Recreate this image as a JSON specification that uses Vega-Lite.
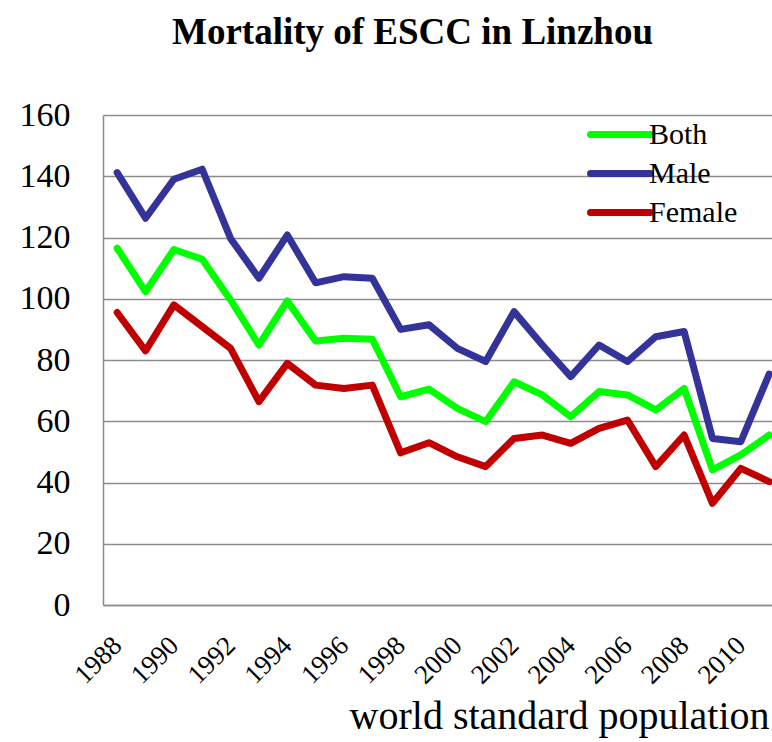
{
  "$schema": "https://vega.github.io/schema/vega-lite/v6.json",
  "autosize": "none",
  "padding": {"left": 103, "top": 115, "right": 0, "bottom": 137},
  "width": 669,
  "height": 490,
  "background": "white",
  "title": {"text": "Mortality of ESCC in Linzhou", "font": "Liberation Serif", "fontSize": 37, "fontWeight": "bold", "color": "black", "anchor": "middle", "dx": -25, "offset": 46},
  "data": {"values": [
    {"year": 1988, "Both": 116.5, "Male": 141.2, "Female": 95.5},
    {"year": 1989, "Both": 102.3, "Male": 126.3, "Female": 83.0},
    {"year": 1990, "Both": 116.1, "Male": 139.0, "Female": 98.0},
    {"year": 1991, "Both": 112.9, "Male": 142.3, "Female": 90.9},
    {"year": 1992, "Both": 99.6, "Male": 119.7, "Female": 83.8},
    {"year": 1993, "Both": 84.9, "Male": 106.7, "Female": 66.4},
    {"year": 1994, "Both": 99.3, "Male": 120.8, "Female": 78.9},
    {"year": 1995, "Both": 86.2, "Male": 105.2, "Female": 71.8},
    {"year": 1996, "Both": 87.1, "Male": 107.2, "Female": 70.7},
    {"year": 1997, "Both": 86.8, "Male": 106.7, "Female": 71.8},
    {"year": 1998, "Both": 68.0, "Male": 90.0, "Female": 49.7},
    {"year": 1999, "Both": 70.5, "Male": 91.5, "Female": 53.0},
    {"year": 2000, "Both": 64.2, "Male": 83.8, "Female": 48.4},
    {"year": 2001, "Both": 59.9, "Male": 79.5, "Female": 45.2},
    {"year": 2002, "Both": 72.9, "Male": 95.8, "Female": 54.4},
    {"year": 2003, "Both": 68.6, "Male": 84.9, "Female": 55.5},
    {"year": 2004, "Both": 61.5, "Male": 74.6, "Female": 52.8},
    {"year": 2005, "Both": 69.7, "Male": 84.9, "Female": 57.7},
    {"year": 2006, "Both": 68.6, "Male": 79.5, "Female": 60.4},
    {"year": 2007, "Both": 63.7, "Male": 87.6, "Female": 45.2},
    {"year": 2008, "Both": 70.7, "Male": 89.3, "Female": 55.5},
    {"year": 2009, "Both": 44.1, "Male": 54.4, "Female": 33.2},
    {"year": 2010, "Both": 49.0, "Male": 53.3, "Female": 44.6},
    {"year": 2011, "Both": 55.5, "Male": 75.4, "Female": 40.3}
  ]},
  "transform": [{"fold": ["Both", "Male", "Female"], "as": ["series", "value"]}],
  "mark": {"type": "line", "strokeWidth": 7, "strokeJoin": "round", "strokeCap": "round"},
  "encoding": {
    "x": {
      "field": "year", "type": "quantitative",
      "scale": {"domain": [1987.5, 2011.1], "nice": false, "zero": false},
      "axis": {
        "values": [1988, 1990, 1992, 1994, 1996, 1998, 2000, 2002, 2004, 2006, 2008, 2010],
        "format": "d", "grid": false, "ticks": false,
        "domainColor": "#8c8c8c", "domainWidth": 1.5,
        "labelAngle": -45, "labelAlign": "right", "labelBaseline": "middle",
        "labelFont": "Liberation Serif", "labelFontSize": 27, "labelColor": "black",
        "labelPadding": 36, "labelFlush": false, "labelOverlap": false,
        "title": "world standard population",
        "titleFont": "Liberation Serif", "titleFontSize": 40, "titleFontWeight": "normal", "titleColor": "black",
        "titleAlign": "right", "titleBaseline": "top", "titleX": 666, "titleY": 91
      }
    },
    "y": {
      "field": "value", "type": "quantitative",
      "scale": {"domain": [0, 160], "nice": false},
      "axis": {
        "values": [0, 20, 40, 60, 80, 100, 120, 140, 160],
        "grid": true, "gridColor": "#8c8c8c", "gridWidth": 1.5,
        "ticks": false, "domainColor": "#8c8c8c", "domainWidth": 1.5,
        "labelFont": "Liberation Serif", "labelFontSize": 34, "labelColor": "black",
        "labelPadding": 33, "title": null
      }
    },
    "color": {
      "field": "series", "type": "nominal",
      "scale": {"domain": ["Both", "Male", "Female"], "range": ["#00ff00", "#333399", "#c00000"]},
      "legend": {
        "title": null, "orient": "none", "legendX": 484, "legendY": 0,
        "symbolType": "stroke", "symbolSize": 3600, "symbolStrokeWidth": 7,
        "clipHeight": 39, "rowPadding": 0, "padding": 0, "labelOffset": -5,
        "labelFont": "Liberation Serif", "labelFontSize": 30, "labelColor": "black",
        "encode": {"symbols": {"update": {"strokeCap": {"value": "round"}}}}
      }
    }
  },
  "config": {"view": {"stroke": null}}
}
